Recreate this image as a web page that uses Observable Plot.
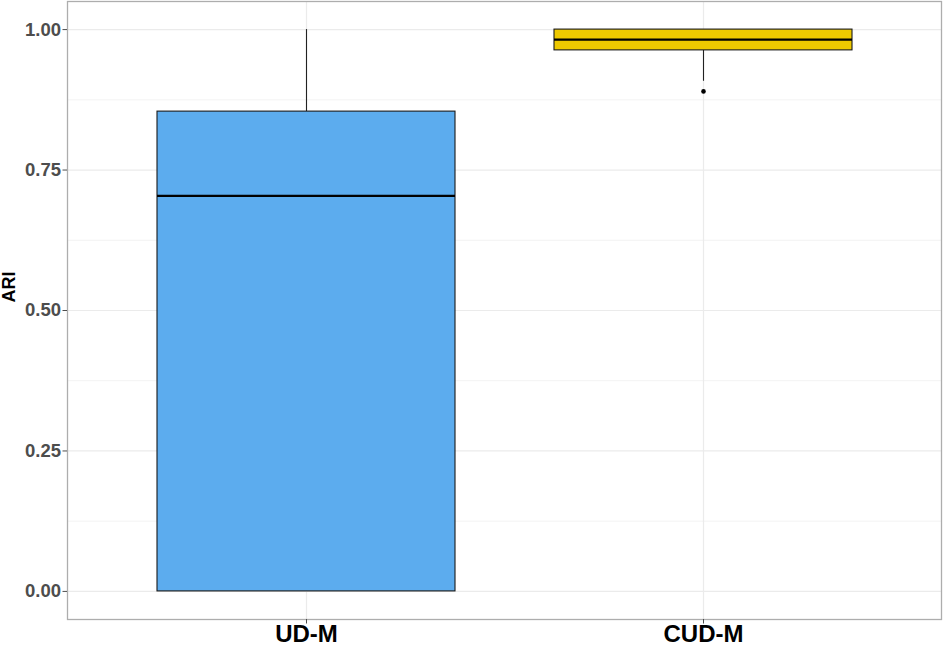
<!DOCTYPE html>
<html>
<head>
<meta charset="utf-8">
<script src="https://cdn.jsdelivr.net/npm/d3@7"></script>
<script src="https://cdn.jsdelivr.net/npm/@observablehq/plot@0.6"></script>
<style>
  html, body { margin: 0; padding: 0; background: #fff; }
  #chart svg { display: block; font-family: "Liberation Sans", Arial, sans-serif; }
</style>
</head>
<body>
<div id="chart"></div>
<script>
// Data
const methods = ["UD-M", "CUD-M"];
const fills = ["#5CACEE", "#EEC900"];
const q1 = [0.000, 0.963];
const medians = [0.704, 0.982];
const q3 = [0.854, 1.000];
const whiskerLow = [0.000, 0.908];
const whiskerHigh = [1.000, 1.000];
const outlierMethod = ["CUD-M"];
const outlierValue = [0.890];
const yTicks = [0, 0.25, 0.5, 0.75, 1];
const yMinor = [0.125, 0.375, 0.625, 0.875];

const boxes = methods.map((m, i) => ({
  method: m, fill: fills[i], q1: q1[i], median: medians[i], q3: q3[i],
  lo: whiskerLow[i], hi: whiskerHigh[i]
}));
const outliers = outlierMethod.map((m, i) => ({method: m, value: outlierValue[i]}));

const plot = Plot.plot({
  width: 944,
  height: 663,
  marginLeft: 67,
  marginRight: 3,
  marginTop: 1,
  marginBottom: 44,
  style: {fontFamily: "'Liberation Sans', Arial, sans-serif", background: "#fff"},
  x: {type: "band", domain: methods, paddingInner: 0.25, paddingOuter: 0.225, label: null},
  y: {domain: [-0.05, 1.05], label: null},
  marks: [
    Plot.ruleY(yMinor, {stroke: "#F3F3F3", strokeWidth: 1}),
    Plot.ruleY(yTicks, {stroke: "#EBEBEB", strokeWidth: 1.2}),
    Plot.gridX({stroke: "#EBEBEB", strokeOpacity: 1, strokeWidth: 1.2}),
    // whiskers
    Plot.ruleX(boxes, {x: "method", y1: "q3", y2: "hi", stroke: "#222", strokeWidth: 1.1}),
    Plot.ruleX(boxes, {x: "method", y1: "lo", y2: "q1", stroke: "#222", strokeWidth: 1.1}),
    // boxes
    Plot.barY(boxes, {x: "method", y1: "q1", y2: "q3", fill: d => d.fill, stroke: "#1a1a1a", strokeWidth: 1.1}),
    // medians
    Plot.tickY(boxes, {x: "method", y: "median", stroke: "#000", strokeWidth: 2.3}),
    // outliers
    Plot.dot(outliers, {x: "method", y: "value", r: 2.3, fill: "#000", stroke: "none"}),
    Plot.frame({stroke: "#ADADAD", strokeWidth: 1.3}),
    Plot.axisY({ticks: yTicks, tickFormat: d3.format(".2f"), tickSize: 4.5, tickPadding: 2,
      fontSize: 18.5, fontWeight: "bold", color: "#4D4D4D", label: null, stroke: "#4D4D4D"}),
    Plot.axisX({tickSize: 4.5, tickPadding: 1, fontSize: 24, fontWeight: "bold", color: "#000",
      label: null, stroke: "#4D4D4D"}),
    Plot.text(["ARI"], {frameAnchor: "left", rotate: -90, dx: -58, dy: -8, fontSize: 18,
      fontWeight: "bold", fill: "#000", text: d => d})
  ]
});
document.getElementById("chart").appendChild(plot);
</script>
</body>
</html>
